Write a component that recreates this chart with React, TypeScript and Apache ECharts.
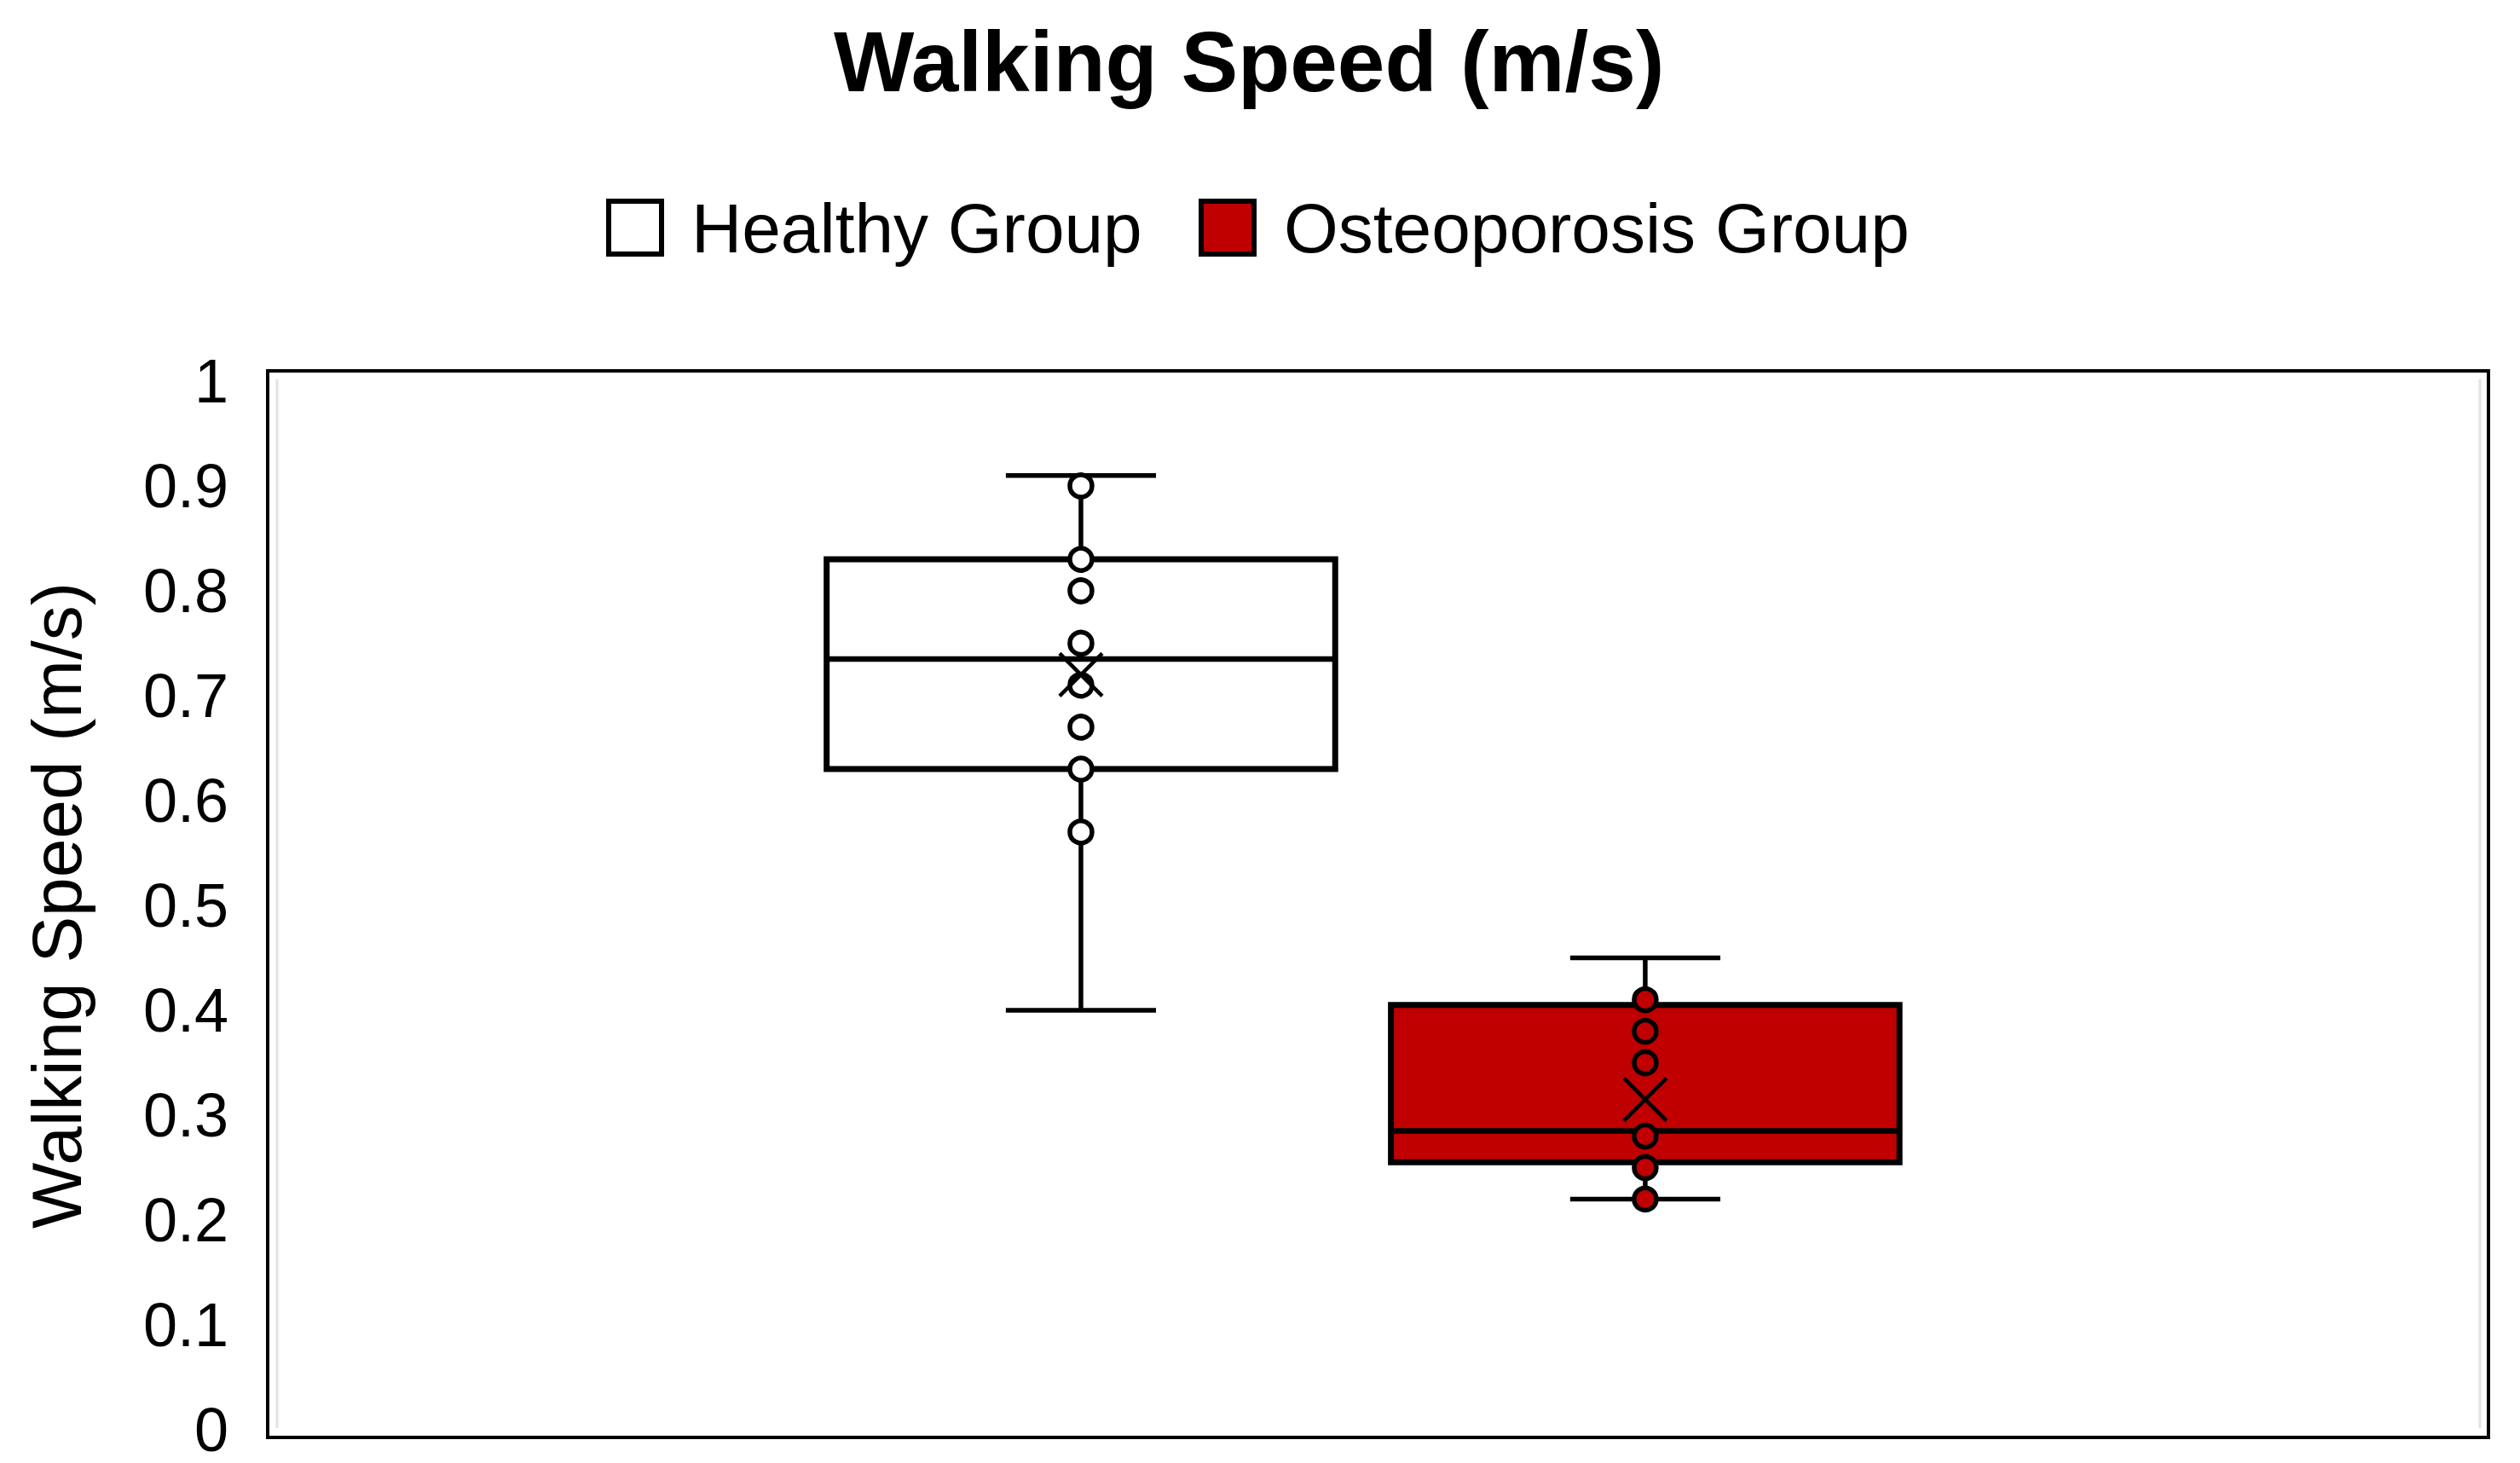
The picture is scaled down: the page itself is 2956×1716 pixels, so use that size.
import React, { useEffect, useRef } from "react";
import * as echarts from "echarts";

// ---------- data ----------
const chartTitle = "Walking Speed (m/s)";
const yAxisName = "Walking Speed (m/s)";
const categories = ["Walking Speed"];
const groups = ["Healthy Group", "Osteoporosis Group"];
const groupFills = ["#FFFFFF", "#C00000"];

const yMin = 0;
const yMax = 1;
const yStep = 0.1;

const whiskerLow = [0.4, 0.22];
const quartile1 = [0.63, 0.255];
const medians = [0.735, 0.285];
const quartile3 = [0.83, 0.405];
const whiskerHigh = [0.91, 0.45];
const means = [0.72, 0.315];

const healthyPoints = [0.9, 0.83, 0.8, 0.75, 0.71, 0.67, 0.63, 0.57];
const osteoporosisPoints = [0.41, 0.38, 0.35, 0.28, 0.25, 0.22];
const groupPoints = [healthyPoints, osteoporosisPoints];

// ---------- layout (fractions of the category band) ----------
const groupOffset = [-0.1338, 0.1203];
const boxWidthFrac = 0.229;
const capWidthFrac = 0.0676;

const FONT = "'Liberation Sans', Arial, Helvetica, sans-serif";

export default function App() {
  const ref = useRef<HTMLDivElement | null>(null);

  useEffect(() => {
    if (!ref.current) return;
    const chart = echarts.init(ref.current, undefined, { renderer: "svg" });

    const series = groups.map((name, gi) => ({
      type: "custom",
      name,
      itemStyle: { color: groupFills[gi], borderColor: "#000", borderWidth: 6 },
      encode: { x: 0, y: [1, 2, 3, 4, 5, 6] },
      data: [
        [0, whiskerLow[gi], quartile1[gi], medians[gi], quartile3[gi], whiskerHigh[gi], means[gi]],
      ],
      renderItem: (params: any, api: any) => {
        const cat = api.value(0);
        const band = api.size([1, 0])[0];
        const cx = api.coord([cat, 0])[0] + groupOffset[gi] * band;
        const y = (v: number) => api.coord([cat, v])[1];
        const bw = band * boxWidthFrac;
        const cw = band * capWidthFrac;
        const lo = y(api.value(1));
        const q1 = y(api.value(2));
        const md = y(api.value(3));
        const q3 = y(api.value(4));
        const hi = y(api.value(5));
        const mn = y(api.value(6));
        const fill = groupFills[gi];
        const line = (x1: number, y1: number, x2: number, y2: number, w: number) => ({
          type: "line",
          shape: { x1, y1, x2, y2 },
          style: { stroke: "#000", lineWidth: w },
        });
        const xs = 25;
        const children: any[] = [
          line(cx, q3, cx, hi, 5.5),
          line(cx, q1, cx, lo, 5.5),
          line(cx - cw / 2, hi, cx + cw / 2, hi, 5.5),
          line(cx - cw / 2, lo, cx + cw / 2, lo, 5.5),
          {
            type: "rect",
            shape: { x: cx - bw / 2, y: q3, width: bw, height: q1 - q3 },
            style: { fill, stroke: "#000", lineWidth: 7 },
          },
          line(cx - bw / 2, md, cx + bw / 2, md, 6.5),
        ];
        groupPoints[gi].forEach((v) => {
          children.push({
            type: "circle",
            shape: { cx, cy: y(v), r: 13 },
            style: { fill, stroke: "#000", lineWidth: 5.5 },
          });
        });
        children.push(line(cx - xs, mn - xs, cx + xs, mn + xs, 4.5));
        children.push(line(cx - xs, mn + xs, cx + xs, mn - xs, 4.5));
        return { type: "group", children };
      },
    }));

    const legendBase = {
      top: 226,
      padding: 0,
      itemWidth: 62,
      itemHeight: 62,
      icon: "rect",
      selectedMode: false,
      textStyle: { fontSize: 82, color: "#000", fontFamily: FONT, padding: [0, 0, 0, 30] },
    };

    const option: any = {
      animation: false,
      backgroundColor: "#fff",
      textStyle: { fontFamily: FONT },
      title: {
        text: chartTitle,
        left: 978,
        top: 22,
        padding: 0,
        textStyle: { fontSize: 100, fontWeight: "bold", color: "#000", fontFamily: FONT },
      },
      legend: [
        {
          ...legendBase,
          left: 711,
          data: [{ name: groups[0], itemStyle: { color: groupFills[0], borderColor: "#000", borderWidth: 6 } }],
        },
        {
          ...legendBase,
          left: 1406,
          data: [{ name: groups[1], itemStyle: { color: groupFills[1], borderColor: "#000", borderWidth: 6 } }],
        },
      ],
      grid: { left: 314, right: 37, top: 447, bottom: 39, containLabel: false },
      xAxis: {
        type: "category",
        data: categories,
        axisLine: { show: false },
        axisTick: { show: false },
        axisLabel: { show: false },
        splitLine: { show: false },
      },
      yAxis: {
        type: "value",
        min: yMin,
        max: yMax,
        interval: yStep,
        name: yAxisName,
        nameLocation: "middle",
        nameRotate: 90,
        nameGap: 207,
        nameTextStyle: { fontSize: 82, color: "#000", fontFamily: FONT },
        axisLine: { show: false },
        axisTick: { show: false },
        splitLine: { show: false },
        axisLabel: {
          fontSize: 72,
          color: "#000",
          margin: 46,
          fontFamily: FONT,
          formatter: (v: number) => String(Math.round(v * 10) / 10),
        },
      },
      graphic: [
        {
          type: "line",
          shape: { x1: 325, y1: 445, x2: 325, y2: 1675 },
          style: { stroke: "#e2e2e2", lineWidth: 3 },
          silent: true,
        },
        {
          type: "line",
          shape: { x1: 2909, y1: 445, x2: 2909, y2: 1675 },
          style: { stroke: "#e2e2e2", lineWidth: 3 },
          silent: true,
        },
        {
          type: "rect",
          shape: { x: 314, y: 435, width: 2605, height: 1251 },
          style: { fill: "none", stroke: "#000", lineWidth: 4 },
          silent: true,
        },
      ],
      series,
    };

    chart.setOption(option);
    return () => chart.dispose();
  }, []);

  return (
    <div
      ref={ref}
      style={{ position: "fixed", left: 0, top: 0, width: "2956px", height: "1716px", background: "#fff" }}
    />
  );
}
